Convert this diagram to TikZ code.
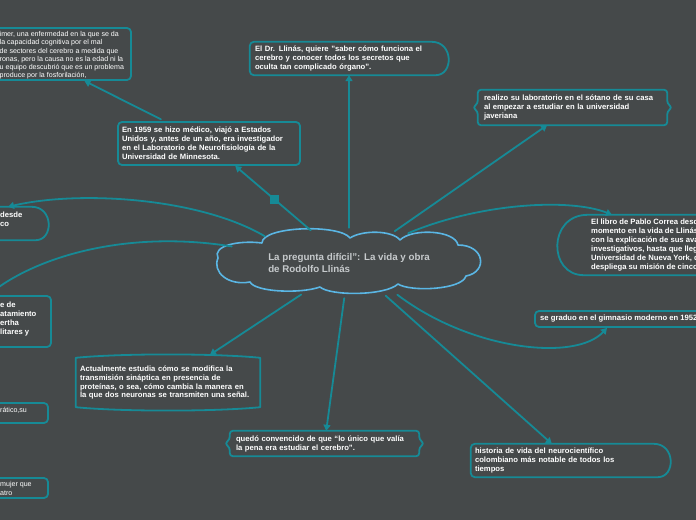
\documentclass[tikz,border=0pt]{standalone}
\usepackage{fontspec}
\setmainfont{Liberation Sans}
\usetikzlibrary{shapes.geometric,arrows.meta}
\definecolor{bgcol}{RGB}{69,73,74}
\definecolor{tealline}{RGB}{22,138,150}
\definecolor{cloudline}{RGB}{90,182,228}
\definecolor{cloudtext}{RGB}{198,202,204}
\begin{document}
\begin{tikzpicture}[x=1bp, y=-1bp, line join=round, line cap=round,
    font=\fontsize{7.7}{9}\selectfont\bfseries,
    >={Triangle[length=6bp,width=7bp]},
    edge/.style={draw=tealline, line width=1.8bp},
    link/.style={tealline, line width=1.8bp, ->, shorten <=4bp},
    txt/.style={text=white, align=left, inner sep=0pt},
    thin/.style={font=\fontsize{7.1}{8.3}\selectfont},
    rectbox/.style={edge, rounded corners=4bp, text=white, align=left, inner xsep=5bp, inner ysep=0pt},
    plainbox/.style={text=white, align=left, inner xsep=5bp, inner ysep=0pt},
    sqmark/.style={fill=tealline, minimum size=9bp, inner sep=0pt},
    cloudbox/.style={shape=ellipse, minimum width=263bp, minimum height=62bp, inner sep=0pt, text=cloudtext, align=left, font=\fontsize{9.8}{12}\selectfont\bfseries}]
  \useasboundingbox (0,0) rectangle (696,520);
  \fill[bgcol] (0,0) rectangle (696,520);
  \clip (0,0) rectangle (696,520);

  % centre
  \node[cloudbox] (main) at (349,263) {La pregunta difícil": La vida y obra\\de Rodolfo Llinás};
  \draw[cloudline, line width=1.6bp] (218,258) .. controls (212,246) and (238,240) .. (262,243)
    .. controls (262,226) and (340,224) .. (350,238) .. controls (362,230) and (392,230) .. (400,240)
    .. controls (412,228) and (455,230) .. (458,245) .. controls (485,245) and (488,272) .. (466,276)
    .. controls (462,290) and (410,292) .. (398,284) .. controls (385,296) and (330,296) .. (320,287)
    .. controls (300,294) and (255,292) .. (250,282) .. controls (228,286) and (212,272) .. cycle;

  % boxes
  \node[plainbox, minimum width=198bp, minimum height=33bp, text width=188bp] (dr) at (349,58.5) {El Dr. Llinás, quiere "saber cómo funciona el\\cerebro y conocer todos los secretos que\\oculta tan complicado órgano".};
  \node[plainbox, minimum width=189bp, minimum height=35bp, text width=177bp, inner xsep=6bp] (lab) at (572.5,107.5) {realizo su laboratorio en el sótano de su casa\\al empezar a estudiar en la universidad\\javeriana};
  \node[rectbox, minimum width=182bp, minimum height=43bp, text width=174bp, inner xsep=4bp] (med) at (209,143.5) {En 1959 se hizo médico, viajó a Estados\\Unidos y, antes de un año, era investigador\\en el Laboratorio de Neurofisiología de la\\Universidad de Minnesota.};
  \node[plainbox, minimum width=184bp, minimum height=55bp, text width=176bp, inner xsep=4bp] (act) at (168,382.5) {Actualmente estudia cómo se modifica la\\transmisión sináptica en presencia de\\proteínas, o sea, cómo cambia la manera en\\la que dos neuronas se transmiten una señal.};
  \node[plainbox, minimum width=189bp, minimum height=25bp, text width=177bp, inner xsep=6bp] (quedo) at (324.5,443.5) {quedó convencido de que “lo único que valía\\la pena era estudiar el cerebro”.};
  \node[plainbox, minimum width=199bp, minimum height=33bp, text width=191bp, inner xsep=4bp] (hist) at (570.5,460.5) {historia de vida del neurocientífico\\colombiano más notable de todos los\\tiempos};

  % boxes cut by the edge
  \node[rectbox, minimum width=200bp, minimum height=52bp] (alz) at (31,54) {};
  \node[txt, thin, anchor=west] (alztxt) at (-0.5,55.5) {imer, una enfermedad en la que se da\\la capacidad cognitiva por el mal\\de sectores del cerebro a medida que\\ronas, pero la causa no es la edad ni la\\u equipo descubrió que es un problema\\produce por la fosforilación,};
  \node[plainbox, minimum width=200bp, minimum height=33bp] (desde) at (-52,223.5) {};
  \node[txt, anchor=west] (desdetxt) at (0,219.5) {desde\\co};
  \node[rectbox, minimum width=200bp, minimum height=51bp] (trat) at (-49,321.5) {};
  \node[txt, anchor=west] (trattxt) at (0,319) {e de\\atamiento\\ertha\\litares y};
  \node[rectbox, minimum width=200bp, minimum height=20bp] (demo) at (-52,413) {};
  \node[txt, thin, anchor=west] (demotxt) at (0,410) {rático,su};
  \node[rectbox, minimum width=200bp, minimum height=20bp] (teatro) at (-52,488) {};
  \node[txt, thin, anchor=west] (teatrotxt) at (0,488.5) {mujer que\\atro};
  \node[plainbox, minimum width=200bp, minimum height=60bp] (libro) at (658,245) {};
  \node[txt, anchor=west] (librotxt) at (591,245) {El libro de Pablo Correa desde\\momento en la vida de Llinás\\con la explicación de sus avances\\investigativos, hasta que llega\\Universidad de Nueva York, donde\\despliega su misión de cinco};
  \node[rectbox, minimum width=200bp, minimum height=16bp] (gimnasio) at (635,319) {};
  \node[txt, anchor=west] (gimnasiotxt) at (540,319) {se graduo en el gimnasio moderno en 1952};

  % outlines
  \draw[edge] ([xshift=-16.5bp]dr.north east) [rounded corners=4bp] -- (dr.north west) -- (dr.south west) -- ([xshift=-16.5bp]dr.south east) [sharp corners] .. controls +(22bp,0) and +(22bp,0) .. ([xshift=-16.5bp]dr.north east);
  \draw[edge] ([xshift=-16.5bp]hist.north east) [rounded corners=4bp] -- (hist.north west) -- (hist.south west) -- ([xshift=-16.5bp]hist.south east) [sharp corners] .. controls +(22bp,0) and +(22bp,0) .. ([xshift=-16.5bp]hist.north east);
  \draw[edge] ([xshift=-16.5bp]desde.north east) [rounded corners=4bp] -- (desde.north west) -- (desde.south west) -- ([xshift=-16.5bp]desde.south east) [sharp corners] .. controls +(22bp,0) and +(22bp,0) .. ([xshift=-16.5bp]desde.north east);
  \draw[edge] ([xshift=30bp]libro.north west) [rounded corners=4bp] -- (libro.north east) -- (libro.south east) -- ([xshift=30bp]libro.south west) [sharp corners] .. controls +(-40bp,0) and +(-40bp,0) .. ([xshift=30bp]libro.north west);
  \draw[edge, rounded corners=3bp] (lab.north west) -- (lab.north east) -- ([yshift=4bp]lab.east) -- ([xshift=5bp]lab.east) -- ([yshift=-4bp]lab.east) -- (lab.south east) -- (lab.south west) -- ([yshift=-4bp]lab.west) -- ([xshift=-5bp]lab.west) -- ([yshift=4bp]lab.west) -- cycle;
  \draw[edge, rounded corners=3bp] (quedo.north west) -- (quedo.north east) -- ([yshift=4bp]quedo.east) -- ([xshift=5bp]quedo.east) -- ([yshift=-4bp]quedo.east) -- (quedo.south east) -- (quedo.south west) -- ([yshift=-4bp]quedo.west) -- ([xshift=-5bp]quedo.west) -- ([yshift=4bp]quedo.west) -- cycle;
  \draw[edge] ([yshift=-3bp]act.north west) .. controls ([xshift=45bp,yshift=1.5bp]act.north west) and ([xshift=-45bp,yshift=1.5bp]act.north east) .. ([yshift=-3bp]act.north east) -- ([yshift=3bp]act.south east) .. controls ([xshift=-45bp,yshift=-1.5bp]act.south east) and ([xshift=45bp,yshift=-1.5bp]act.south west) .. ([yshift=3bp]act.south west) -- cycle;

  % connectors
  \draw[link] (main) -- (dr);
  \draw[link] (main) -- (lab);
  \draw[link] (main) -- node[sqmark] (sq) {} (med);
  \draw[link] (med) -- (alz);
  \draw[link] (main) -- (act);
  \draw[link] (main) -- (quedo);
  \draw[link] (main) -- (hist);
  \draw[link] (main.163) .. controls (200,198) and (80,190) .. (8,0 |- desde.north);
  \draw[link] (main.172) .. controls (130,230) and (40,255) .. (-12,0 |- trat.north);
  \draw[link] (main.27) .. controls (480,203) and (570,198) .. (612,0 |- libro.north);
  \draw[link] (main.327) .. controls (470,350) and (575,362) .. (607,0 |- gimnasio.south);
\end{tikzpicture}
\end{document}
